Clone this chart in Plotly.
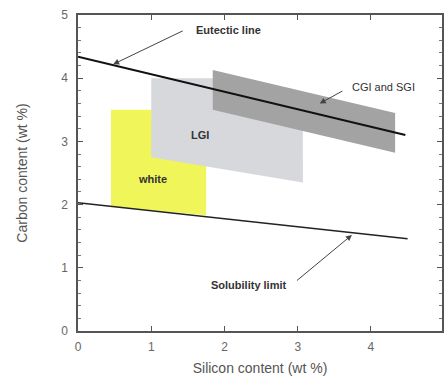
import plotly.graph_objects as go

# Data
eutectic_si = [0.0, 4.47]
eutectic_c = [4.34, 3.10]
solubility_si = [0.0, 4.50]
solubility_c = [2.03, 1.46]

white_si = [0.45, 1.75, 1.75, 0.45, 0.45]
white_c = [1.97, 1.83, 3.50, 3.50, 1.97]

lgi_si = [1.0, 3.07, 3.07, 1.84, 1.0, 1.0]
lgi_c = [2.75, 2.35, 3.30, 4.00, 4.00, 2.75]

cgi_si = [1.84, 4.33, 4.33, 1.84, 1.84]
cgi_c = [3.50, 2.82, 3.45, 4.13, 3.50]

x_ticks = [0, 1, 2, 3, 4]
y_ticks = [0, 1, 2, 3, 4, 5]

fig = go.Figure()
fig.add_trace(go.Scatter(x=white_si, y=white_c, fill="toself", fillcolor="#f0f55a",
                         line=dict(width=0), mode="lines", hoverinfo="skip"))
fig.add_trace(go.Scatter(x=lgi_si, y=lgi_c, fill="toself", fillcolor="#d7d8db",
                         line=dict(width=0), mode="lines", hoverinfo="skip"))
fig.add_trace(go.Scatter(x=cgi_si, y=cgi_c, fill="toself", fillcolor="#a3a3a3",
                         line=dict(width=0), mode="lines", hoverinfo="skip"))
fig.add_trace(go.Scatter(x=eutectic_si, y=eutectic_c, mode="lines",
                         line=dict(color="#111111", width=2)))
fig.add_trace(go.Scatter(x=solubility_si, y=solubility_c, mode="lines",
                         line=dict(color="#222222", width=1.5)))

arrows = [
    # head x, head y, tail x, tail y
    (0.48, 4.22, 1.45, 4.76),
    (3.30, 3.60, 3.63, 3.81),
    (3.74, 1.52, 2.97, 0.78),
]
for hx, hy, tx, ty in arrows:
    fig.add_annotation(x=hx, y=hy, ax=tx, ay=ty, xref="x", yref="y", axref="x", ayref="y",
                       text="", showarrow=True, arrowhead=2, arrowsize=1.2,
                       arrowwidth=1, arrowcolor="#444444")

labels = [
    ("Eutectic line", 1.59, 4.76, "left", True),
    ("CGI and SGI", 3.72, 3.86, "left", False),
    ("Solubility limit", 1.79, 0.73, "left", True),
    ("LGI", 1.66, 3.10, "center", True),
    ("white", 1.02, 2.40, "center", True),
]
for txt, x, y, anchor, bold in labels:
    fig.add_annotation(x=x, y=y, xref="x", yref="y", text=f"<b>{txt}</b>" if bold else txt,
                       showarrow=False, xanchor=anchor,
                       font=dict(family="Liberation Sans, Arial", size=11, color="#333333"))

axis_common = dict(showline=True, linecolor="#555555", linewidth=1.5, mirror="ticks",
                   ticks="inside", ticklen=5, tickcolor="#555555", showgrid=False,
                   zeroline=False, tickfont=dict(family="Liberation Sans, Arial", size=12, color="#666666"))

fig.update_layout(
    width=444, height=376,
    margin=dict(l=78, r=0, t=15, b=45),
    plot_bgcolor="white", paper_bgcolor="white",
    showlegend=False,
    xaxis=dict(range=[0, 4.97], tickvals=x_ticks, ticklabelstandoff=4,
               title=dict(text="Silicon content (wt %)", standoff=12,
                          font=dict(family="Liberation Sans, Arial", size=14, color="#555555")),
               **axis_common),
    yaxis=dict(range=[0, 5], tickvals=y_ticks, ticklabelstandoff=6,
               minor=dict(dtick=0.2, ticks="inside", ticklen=3, tickcolor="#777777"),
               title=dict(text="Carbon content (wt %)", standoff=30,
                          font=dict(family="Liberation Sans, Arial", size=14, color="#555555")),
               **axis_common),
)

fig.write_html("out.html")
